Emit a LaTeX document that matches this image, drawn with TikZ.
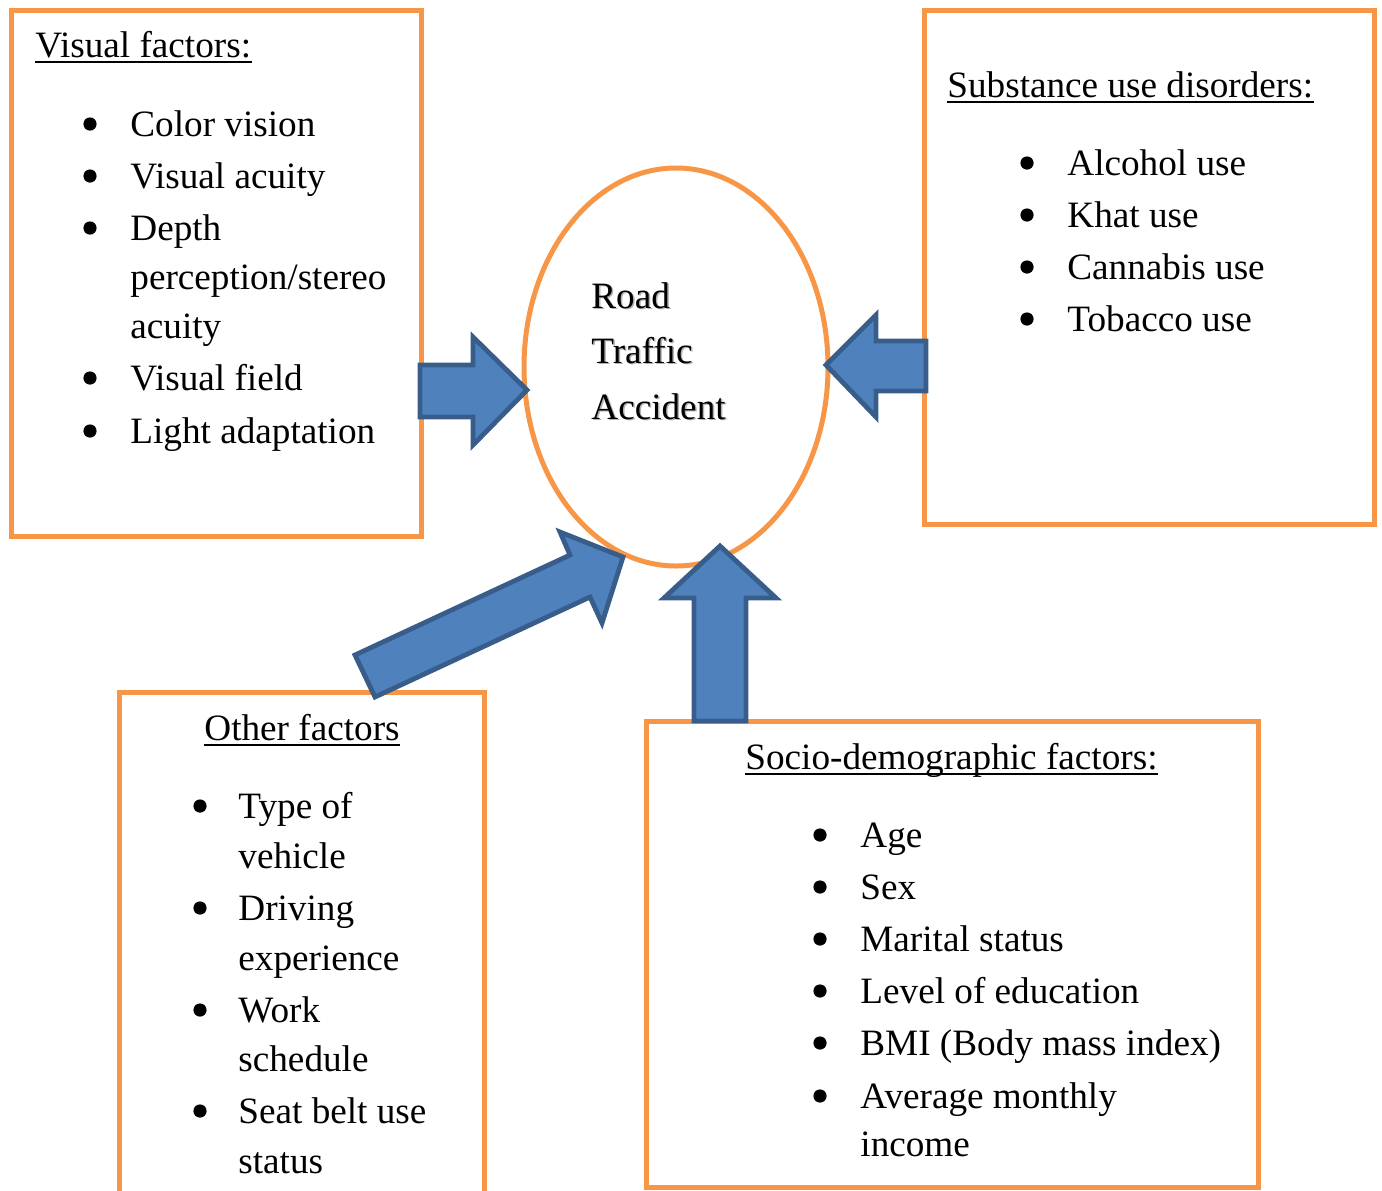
\documentclass[tikz,border=0pt]{standalone}
\usepackage{fontspec}
\setmainfont{Liberation Serif}
\usetikzlibrary{shapes.geometric}
\definecolor{orng}{HTML}{F79646}
\definecolor{afill}{HTML}{4F81BD}
\definecolor{aline}{HTML}{385D8A}
\tikzset{
  box/.style={draw=orng, line width=2.5pt},
  blk/.style={fill=afill, draw=aline, line width=2.4pt, line join=miter},
  txt/.style={anchor=base west, inner sep=0pt, font=\fontsize{18.6pt}{24pt}\selectfont},
  bul/.style={circle, fill=black, inner sep=0pt, minimum size=6.6pt},
  shad/.style={txt, text=black!30},
}
\newcommand\bitem[5]{%
  \node[bul] (#1b) at (#2,#4-12) {};
  \node[txt] (#1) at (#3,#4) {#5};}
\newcommand\citem[4]{\node[txt] (#1) at (#2,#3) {#4};}
\newcommand\uhead[4]{%
  \node[txt] (#1) at (#2,#3) {#4};
  \draw[line width=1pt] ([yshift=-2.6pt]#1.base west) -- ([yshift=-2.6pt]#1.base east);}
\begin{document}
\begin{tikzpicture}[x=0.5pt, y=-0.5pt]
\useasboundingbox (0,0) rectangle (1382,1190);
% boxes
\draw[box] (11,10) rectangle (421,536);
\draw[box] (924,10) rectangle (1374,524);
\draw[box] (119,1195) -- (119,692) -- (484,692) -- (484,1195);
\draw[box] (646,721) rectangle (1258,1187);
% central ellipse
\node[ellipse, draw=orng, line width=2.5pt, minimum width=152pt, minimum height=199pt, inner sep=0pt] (rta) at (676,367) {};
\node[shad] (r1s) at (592.5,309.5) {Road};
\node[shad] (r2s) at (592.5,364.5) {Traffic};
\node[shad] (r3s) at (592.5,420.5) {Accident};
\citem{r1}{591}{308}{Road}
\citem{r2}{591}{363}{Traffic}
\citem{r3}{591}{419}{Accident}
% block arrows
\draw[blk] (420,365) -- (473,365) -- (473,337) -- (527,390) -- (473,445) -- (473,417) -- (420,417) -- cycle;
\draw[blk] (926,341) -- (876,341) -- (876,315) -- (826,365) -- (876,417) -- (876,391) -- (926,391) -- cycle;
\draw[blk] (694,721) -- (694,598) -- (664,598) -- (720,546) -- (776,598) -- (746,598) -- (746,721) -- cycle;
\draw[blk] (355,655) -- (570,555) -- (560,532) -- (623,557) -- (602,623) -- (590,597) -- (375,697) -- cycle;
% visual factors
\uhead{vh}{35}{57}{Visual factors:}
\bitem{v1}{90}{130}{136}{Color vision}
\bitem{v2}{90}{130}{188}{Visual acuity}
\bitem{v3}{90}{130}{240}{Depth}
\citem{v3a}{130}{289}{perception/stereo}
\citem{v3b}{130}{338}{acuity}
\bitem{v4}{90}{130}{390}{Visual field}
\bitem{v5}{90}{130}{443}{Light adaptation}
% substance use
\uhead{sh}{947}{97}{Substance use disorders:}
\bitem{s1}{1027}{1067}{175}{Alcohol use}
\bitem{s2}{1027}{1067}{227}{Khat use}
\bitem{s3}{1027}{1067}{279}{Cannabis use}
\bitem{s4}{1027}{1067}{331}{Tobacco use}
% other factors
\uhead{oh}{204}{740}{Other factors}
\bitem{o1}{200}{238}{818}{Type of}
\citem{o1a}{238}{868}{vehicle}
\bitem{o2}{200}{238}{920}{Driving}
\citem{o2a}{238}{970}{experience}
\bitem{o3}{200}{238}{1022}{Work}
\citem{o3a}{238}{1071}{schedule}
\bitem{o4}{200}{238}{1123}{Seat belt use}
\citem{o4a}{238}{1173}{status}
% socio-demographic
\uhead{dh}{745}{769}{Socio-demographic factors:}
\bitem{d1}{820}{860}{847}{Age}
\bitem{d2}{820}{860}{899}{Sex}
\bitem{d3}{820}{860}{951}{Marital status}
\bitem{d4}{820}{860}{1003}{Level of education}
\bitem{d5}{820}{860}{1055}{BMI (Body mass index)}
\bitem{d6}{820}{860}{1108}{Average monthly}
\citem{d6a}{860}{1156}{income}
\end{tikzpicture}
\end{document}
